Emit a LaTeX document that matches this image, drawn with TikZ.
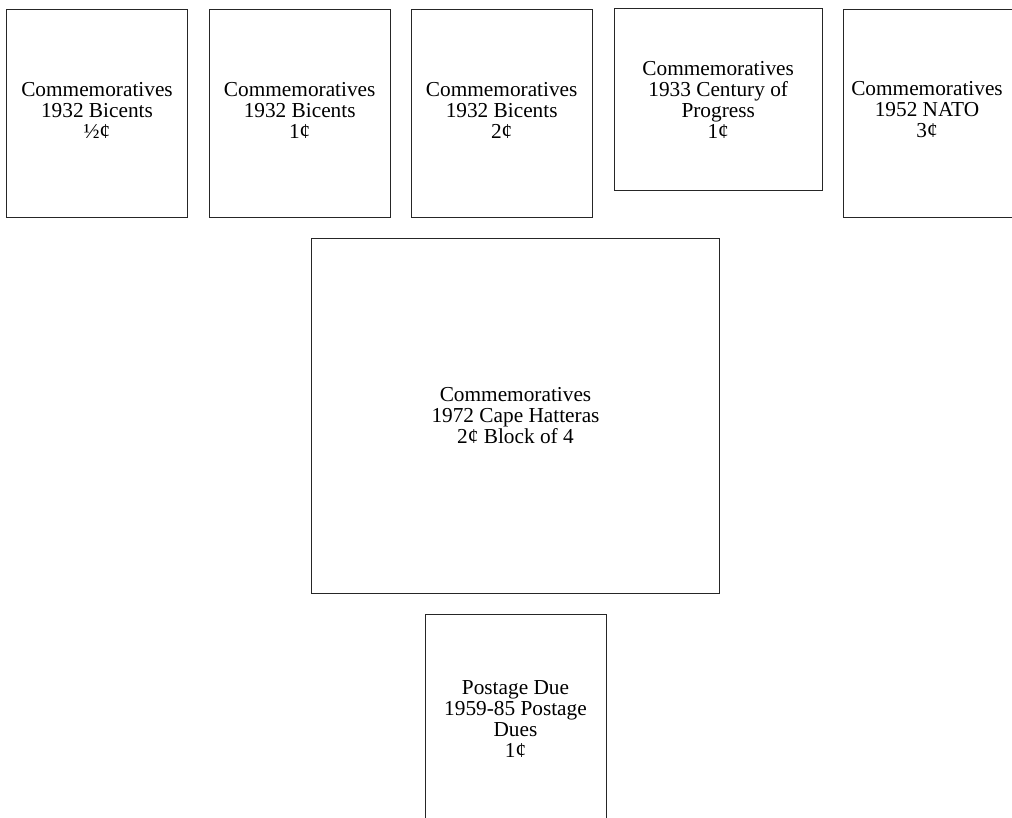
\documentclass[tikz,border=0pt]{standalone}
\usepackage{fontspec}
\setmainfont{Liberation Serif}
\begin{document}
\begin{tikzpicture}[x=1pt,y=-1pt,
  box/.style={draw=black!85, line width=0.9pt, rectangle, inner sep=0pt, align=center,
    font=\fontsize{21.3}{21}\selectfont},
  lbl/.style={inner sep=0pt, align=center, font=\fontsize{21.3}{21}\selectfont},
  txt/.style={inner sep=0pt, align=center, font=\fontsize{21.3}{21}\selectfont},
  boxline/.style={draw=black!85, line width=0.9pt}]
\useasboundingbox (0,0) rectangle (1012,818);
\clip (0,0) rectangle (1012,818);
\node[box, minimum width=180.5pt, minimum height=208pt] (b1) at (97,113) {};
\node[txt] (t1) at (97,110.5) {Commemoratives\\1932 Bicents\\½¢};
\node[box, minimum width=181pt, minimum height=208pt] (b2) at (299.7,113) {};
\node[txt] (t2) at (299.7,110.5) {Commemoratives\\1932 Bicents\\1¢};
\node[box, minimum width=181pt, minimum height=208pt] (b3) at (501.7,113) {};
\node[txt] (t3) at (501.7,110.5) {Commemoratives\\1932 Bicents\\2¢};
\node[box, minimum width=208pt, minimum height=181.7pt] (b4) at (718.2,99.8) {Commemoratives\\1933 Century of\\Progress\\1¢};
\draw[boxline] (843.7,9) rectangle (1030,217);
\node[lbl] (b5) at (927,109.5) {Commemoratives\\1952 NATO\\3¢};
\node[box, minimum width=407.6pt, minimum height=354.7pt] (b6) at (515.5,415.7) {Commemoratives\\1972 Cape Hatteras\\2¢ Block of 4};
\node[box, minimum width=181pt, minimum height=208pt] (b7) at (515.5,718.7) {Postage Due\\1959-85 Postage\\Dues\\1¢};
\end{tikzpicture}
\end{document}
